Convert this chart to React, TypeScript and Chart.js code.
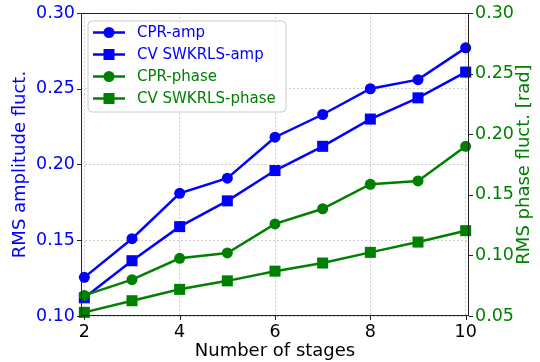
import React, { useEffect, useRef } from 'react';
import { Chart, registerables } from 'chart.js';
Chart.register(...registerables);

const stages = [2, 3, 4, 5, 6, 7, 8, 9, 10];
const cprAmp = [0.1255, 0.151, 0.181, 0.191, 0.218, 0.233, 0.25, 0.256, 0.277];
const swkrlsAmp = [0.112, 0.1365, 0.159, 0.176, 0.196, 0.212, 0.23, 0.244, 0.261];
const cprPhase = [0.067, 0.08, 0.0976, 0.102, 0.126, 0.1385, 0.1587, 0.1614, 0.19];
const swkrlsPhase = [0.053, 0.0626, 0.072, 0.079, 0.087, 0.0937, 0.1025, 0.111, 0.1204];
const xTicks = [2, 4, 6, 8, 10];
const ampTicks = [0.1, 0.15, 0.2, 0.25, 0.3];
const phaseTicks = [0.05, 0.1, 0.15, 0.2, 0.25, 0.3];
const phaseTitle = 'RMS phase fluct. [rad]';

const BLUE = '#0000ff';
const GREEN = '#008000';
const FONT = 'DejaVu Sans';

const toPts = (ys: number[]) => stages.map((x, i) => ({ x, y: ys[i] }));

const framePlugin = {
  id: 'frameTicks',
  afterDatasetsDraw(chart: any) {
    const { ctx, chartArea: a, scales } = chart;
    ctx.save();
    ctx.strokeStyle = '#222';
    ctx.lineWidth = 1;
    ctx.strokeRect(a.left + 0.5, a.top + 0.5, a.right - a.left - 1, a.bottom - a.top - 1);
    ctx.beginPath();
    xTicks.forEach((v) => {
      const px = Math.round(scales.x.getPixelForValue(v)) + 0.5;
      ctx.moveTo(px, a.bottom);
      ctx.lineTo(px, a.bottom + 4);
    });
    ampTicks.forEach((v) => {
      const py = Math.round(scales.yAmp.getPixelForValue(v)) + 0.5;
      ctx.moveTo(a.left, py);
      ctx.lineTo(a.left - 4, py);
    });
    phaseTicks.forEach((v) => {
      const py = Math.round(scales.yPhase.getPixelForValue(v)) + 0.5;
      ctx.moveTo(a.right, py);
      ctx.lineTo(a.right + 4, py);
    });
    ctx.stroke();
    ctx.restore();
  },
  afterDraw(chart: any) {
    const { ctx, chartArea: a } = chart;
    // right axis title, reading bottom-to-top
    ctx.save();
    ctx.translate(524, (a.top + a.bottom) / 2);
    ctx.rotate(-Math.PI / 2);
    ctx.font = `18px "${FONT}"`;
    ctx.fillStyle = GREEN;
    ctx.textAlign = 'center';
    ctx.textBaseline = 'middle';
    ctx.fillText(phaseTitle, 0, 0);
    ctx.restore();

    const left = a.left + 7;
    const top = a.top + 8;
    const w = 198;
    const h = 91;
    ctx.save();
    ctx.beginPath();
    const r = 4;
    ctx.moveTo(left + r, top);
    ctx.arcTo(left + w, top, left + w, top + h, r);
    ctx.arcTo(left + w, top + h, left, top + h, r);
    ctx.arcTo(left, top + h, left, top, r);
    ctx.arcTo(left, top, left + w, top, r);
    ctx.closePath();
    ctx.fillStyle = 'rgba(255,255,255,0.8)';
    ctx.fill();
    ctx.strokeStyle = '#cccccc';
    ctx.lineWidth = 1;
    ctx.stroke();
    chart.data.datasets.forEach((ds: any, i: number) => {
      const y = top + 11.5 + i * 22;
      ctx.strokeStyle = ds.borderColor;
      ctx.lineWidth = 2.5;
      ctx.beginPath();
      ctx.moveTo(left + 5, y);
      ctx.lineTo(left + 37, y);
      ctx.stroke();
      ctx.fillStyle = ds.borderColor;
      if (ds.pointStyle === 'rect') {
        ctx.fillRect(left + 21 - 5.5, y - 5.5, 11, 11);
      } else {
        ctx.beginPath();
        ctx.arc(left + 21, y, 5.5, 0, Math.PI * 2);
        ctx.fill();
      }
      ctx.font = `15px "${FONT}"`;
      ctx.textBaseline = 'middle';
      ctx.textAlign = 'left';
      ctx.fillText(ds.label, left + 49, y + 0.5);
    });
    ctx.restore();
  },
};

export default function App() {
  const ref = useRef<HTMLCanvasElement>(null);
  useEffect(() => {
    if (!ref.current) return;
    const mk = (label: string, ys: number[], color: string, style: string, axis: string, order: number) => ({
      label,
      data: toPts(ys),
      borderColor: color,
      backgroundColor: color,
      pointBackgroundColor: color,
      pointBorderColor: color,
      borderWidth: 2.5,
      pointStyle: style,
      pointRadius: style === 'rect' ? 7.8 : 5.5,
      pointBorderWidth: 0,
      yAxisID: axis,
      order,
      clip: false as any,
      tension: 0,
    });
    const fitY = (w: number) => (s: any) => {
      s.width = w;
      s.paddingTop = 13;
      s.paddingBottom = 0;
    };
    const chart = new Chart(ref.current, {
      type: 'line',
      data: {
        datasets: [
          mk('CPR-amp', cprAmp, BLUE, 'circle', 'yAmp', 4),
          mk('CV SWKRLS-amp', swkrlsAmp, BLUE, 'rect', 'yAmp', 3),
          mk('CPR-phase', cprPhase, GREEN, 'circle', 'yPhase', 2),
          mk('CV SWKRLS-phase', swkrlsPhase, GREEN, 'rect', 'yPhase', 1),
        ] as any,
      },
      options: {
        animation: false,
        responsive: true,
        maintainAspectRatio: false,
        layout: { padding: { top: 0, left: 0, right: 0, bottom: 0 } },
        plugins: { legend: { display: false }, tooltip: { enabled: false } },
        scales: {
          x: {
            type: 'linear',
            min: 1.93,
            max: 10.07,
            afterBuildTicks: (s: any) => {
              s.ticks = xTicks.map((v) => ({ value: v }));
            },
            afterFit: (s: any) => {
              s.height = 46;
              s.paddingLeft = 0;
              s.paddingRight = 0;
            },
            grid: { color: 'rgba(176,176,176,0.8)', lineWidth: 0.8, drawTicks: false },
            border: { display: false, dash: [2, 2] },
            ticks: {
              color: '#000',
              font: { family: FONT, size: 17.5 },
              padding: 6,
              maxRotation: 0,
              callback: (v: any) => String(v),
            },
            title: {
              display: true,
              text: 'Number of stages',
              color: '#000',
              font: { family: FONT, size: 18 },
              padding: { top: 0, bottom: 0 },
            },
          },
          yAmp: {
            type: 'linear',
            position: 'left',
            min: 0.1,
            max: 0.3,
            afterBuildTicks: (s: any) => {
              s.ticks = ampTicks.map((v) => ({ value: v }));
            },
            afterFit: fitY(81),
            grid: { color: 'rgba(176,176,176,0.8)', lineWidth: 0.8, drawTicks: false },
            border: { display: false, dash: [2, 2] },
            ticks: {
              color: BLUE,
              font: { family: FONT, size: 17.5 },
              padding: 6,
              callback: (v: any) => Number(v).toFixed(2),
            },
            title: {
              display: true,
              text: 'RMS amplitude fluct.',
              color: BLUE,
              font: { family: FONT, size: 18 },
              padding: { top: 10, bottom: 0 },
            },
          },
          yPhase: {
            type: 'linear',
            position: 'right',
            min: 0.05,
            max: 0.3,
            afterBuildTicks: (s: any) => {
              s.ticks = phaseTicks.map((v) => ({ value: v }));
            },
            afterFit: fitY(71),
            grid: { display: false, drawTicks: false },
            border: { display: false },
            ticks: {
              color: GREEN,
              font: { family: FONT, size: 17.5 },
              padding: 6,
              callback: (v: any) => Number(v).toFixed(2),
            },
            title: { display: false },
          },
        },
      } as any,
      plugins: [framePlugin],
    });
    return () => chart.destroy();
  }, []);
  return (
    <div style={{ position: 'fixed', left: 0, top: 0, width: 540, height: 362, background: '#fff' }}>
      <canvas ref={ref} />
    </div>
  );
}
